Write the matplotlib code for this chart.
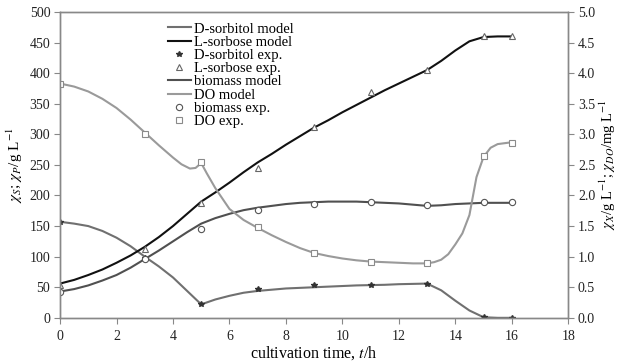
import matplotlib
matplotlib.use('Agg')
import matplotlib.pyplot as plt

plt.rcParams['font.family'] = ['Liberation Serif', 'DejaVu Serif']
plt.rcParams['mathtext.fontset'] = 'stix'

# ===== Experimental points =====
t_exp = [0, 3, 5, 7, 9, 11, 13, 15, 16]
sorbitol_exp = [157, 97, 22, 47, 53, 54, 56, 1, 0]          # g/L
sorbose_exp = [54, 112, 188, 245, 312, 369, 405, 460, 460]   # g/L
biomass_exp = [0.42, 0.96, 1.45, 1.76, 1.86, 1.89, 1.85, 1.89, 1.90]  # g/L
do_exp = [3.83, 3.00, 2.55, 1.48, 1.06, 0.92, 0.89, 2.65, 2.85]       # mg/L

# ===== Model curves =====
t_model = [0, 0.5, 1, 1.5, 2, 2.5, 3, 3.5, 4, 4.5, 5, 5.5, 6, 6.5, 7, 7.5, 8,
           8.5, 9, 9.5, 10, 10.5, 11, 11.5, 12, 12.5, 13, 13.5, 14, 14.5, 15,
           15.5, 16]
sorbitol_model = [157, 154, 150, 142, 131, 117, 100, 84, 66, 44, 22, 30, 36,
                  41, 44, 46, 48, 49, 50, 51, 52, 53, 53.5, 54, 55, 55.5, 56,
                  45, 28, 12, 1, 0, 0]
sorbose_model = [56, 62, 70, 79, 90, 102, 116, 132, 150, 170, 190, 205, 221,
                 238, 254, 268, 283, 297, 311, 323, 336, 348, 360, 372, 383,
                 394, 405, 420, 437, 452, 459, 460, 460]
biomass_model = [0.43, 0.47, 0.53, 0.61, 0.70, 0.82, 0.96, 1.10, 1.25, 1.40,
                 1.54, 1.63, 1.70, 1.76, 1.80, 1.83, 1.86, 1.88, 1.89, 1.90,
                 1.90, 1.90, 1.89, 1.88, 1.87, 1.85, 1.83, 1.84, 1.86, 1.87,
                 1.88, 1.88, 1.88]

t_do = [0, 0.5, 1, 1.5, 2, 2.5, 3, 3.5, 4, 4.3, 4.6, 4.8, 5, 5.2, 5.5, 6, 6.5,
        7, 7.5, 8, 8.5, 9, 9.5, 10, 10.5, 11, 11.5, 12, 12.5, 13, 13.25, 13.5,
        13.75, 14, 14.25, 14.5, 14.75, 15, 15.25, 15.5, 16]
do_model = [3.83, 3.78, 3.70, 3.58, 3.43, 3.24, 3.03, 2.82, 2.62, 2.51, 2.44,
            2.45, 2.53, 2.36, 2.12, 1.78, 1.60, 1.47, 1.35, 1.24, 1.14, 1.06,
            1.01, 0.97, 0.94, 0.92, 0.91, 0.90, 0.89, 0.89, 0.91, 0.95, 1.04,
            1.20, 1.38, 1.68, 2.30, 2.63, 2.78, 2.84, 2.87]

GRID = '#888888'

fig = plt.figure(figsize=(6.19, 3.62), dpi=100)
ax = fig.add_axes([0.097, 0.122, 0.821, 0.845])
ax2 = ax.twinx()

h1, = ax.plot(t_model, sorbitol_model, color='#707070', lw=1.5)
h2, = ax.plot(t_model, sorbose_model, color='#111111', lw=1.5)
h3, = ax.plot(t_exp, sorbitol_exp, ls='none', marker='*', ms=4, color='#333333')
h4, = ax.plot(t_exp, sorbose_exp, ls='none', marker='^', ms=4.5, mfc='white',
              mec='#666666', mew=0.8)
h5, = ax2.plot(t_model, biomass_model, color='#505050', lw=1.5)
h6, = ax2.plot(t_do, do_model, color='#9a9a9a', lw=1.5)
h7, = ax2.plot(t_exp, biomass_exp, ls='none', marker='o', ms=4.5, mfc='white',
               mec='#555555', mew=0.8)
h8, = ax2.plot(t_exp, do_exp, ls='none', marker='s', ms=4.5, mfc='white',
               mec='#8a8a8a', mew=0.8)

ax.set_xlim(0, 18)
ax.set_ylim(0, 500)
ax2.set_ylim(0, 5.0)
ax.set_xticks(range(0, 19, 2))
ax.set_yticks(range(0, 501, 50))
ax2.set_yticks([i * 0.5 for i in range(11)])
ax2.set_yticklabels([f'{i * 0.5:.1f}' for i in range(11)])

for a in (ax, ax2):
    for s in a.spines.values():
        s.set_color(GRID)
        s.set_linewidth(1.0)
    a.tick_params(direction='out', length=4, color=GRID, labelsize=10,
                  labelcolor='#222222', pad=3)
ax.tick_params(axis='x', pad=5)

ax.set_xlabel(r'cultivation time, $t$/h', fontsize=11.5, labelpad=1)
ax.set_ylabel(r'$\chi_S$; $\chi_P$/g L$^{-1}$', fontsize=11, labelpad=3)
ax2.set_ylabel(r'$\chi_X$/g L$^{-1}$; $\chi_{DO}$/mg L$^{-1}$', fontsize=10.5,
               labelpad=2)

labels = ['D-sorbitol model', 'L-sorbose model', 'D-sorbitol exp.',
          'L-sorbose exp.', 'biomass model', 'DO model', 'biomass exp.',
          'DO exp.']
ax2.legend([h1, h2, h3, h4, h5, h6, h7, h8], labels, loc='upper left',
           bbox_to_anchor=(0.2, 0.985), frameon=False, fontsize=10.5,
           handlelength=1.6, handletextpad=0.2, labelspacing=0.0,
           borderaxespad=0.0)

plt.savefig('out.png', dpi=100)
plt.close()
